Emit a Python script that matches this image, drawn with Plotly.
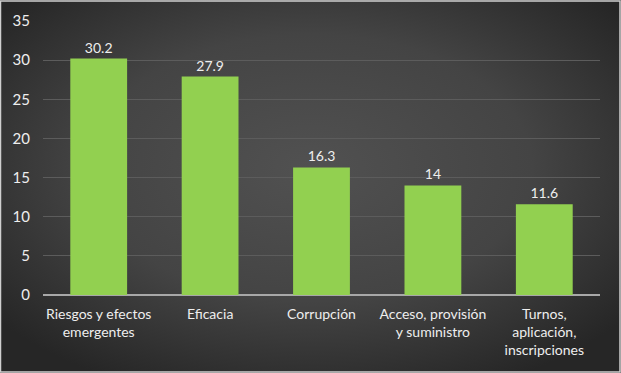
import base64
import plotly.graph_objects as go

categories = ["Riesgos y efectos<br>emergentes", "Eficacia", "Corrupción",
              "Acceso, provisión<br>y suministro", "Turnos,<br>aplicación,<br>inscripciones"]
values = [30.2, 27.9, 16.3, 14, 11.6]
tick_vals = [0, 5, 10, 15, 20, 25, 30, 35]

W, H = 621, 373
ML, MR, MT, MB = 43, 21, 21, 78
PW, PH = W - ML - MR, H - MT - MB

svg = f'''<svg xmlns="http://www.w3.org/2000/svg" width="{W}" height="{H}" viewBox="0 0 {W} {H}" preserveAspectRatio="none">
<defs><radialGradient id="g" cx="50%" cy="45%" r="65%">
<stop offset="0%" stop-color="#515151"/><stop offset="55%" stop-color="#444444"/><stop offset="100%" stop-color="#262626"/>
</radialGradient></defs>
<rect x="0" y="0" width="{W}" height="{H}" fill="url(#g)"/></svg>'''
src = "data:image/svg+xml;base64," + base64.b64encode(svg.encode()).decode()

fig = go.Figure(go.Bar(
    x=categories, y=values,
    marker=dict(color="#92D050", line=dict(width=0)),
    text=[f"{v:g}" for v in values], textposition="outside",
    textfont=dict(color="#eeeeee", size=14, family="Lato"),
    cliponaxis=False,
))

fig.update_layout(
    width=W, height=H,
    margin=dict(l=ML, r=MR, t=MT, b=MB, autoexpand=False),
    paper_bgcolor="#3a3a3a", plot_bgcolor="rgba(0,0,0,0)",
    bargap=0.49, showlegend=False,
    font=dict(family="Lato", color="#eeeeee", size=14),
    images=[dict(source=src, xref="paper", yref="paper",
                 x=-ML / PW, y=1 + MT / PH, sizex=W / PW, sizey=H / PH,
                 xanchor="left", yanchor="top", sizing="stretch", layer="below")],
    shapes=[dict(type="rect", xref="paper", yref="paper",
                 x0=-ML / PW + 0.5 / PW, x1=1 + (MR - 1) / PW,
                 y0=-(MB - 1) / PH, y1=1 + (MT - 1) / PH,
                 line=dict(color="#cfcfcf", width=1.5), layer="above")],
)
fig.update_xaxes(showgrid=False, showline=False, ticks="", zeroline=False,
                 ticklabelstandoff=9,
                 tickfont=dict(size=14, color="#eeeeee"))
fig.update_yaxes(range=[0, 35], tickvals=tick_vals, showgrid=True,
                 gridcolor="#5c5c5c", gridwidth=1, zeroline=True,
                 zerolinecolor="#a8a8a8", zerolinewidth=2, showline=False,
                 ticks="", ticklabelstandoff=12,
                 tickfont=dict(size=15, color="#eeeeee"))

fig.write_html("out.html", config={"displayModeBar": False},
               post_script="document.body.style.margin='0';document.body.style.overflow='hidden';")
